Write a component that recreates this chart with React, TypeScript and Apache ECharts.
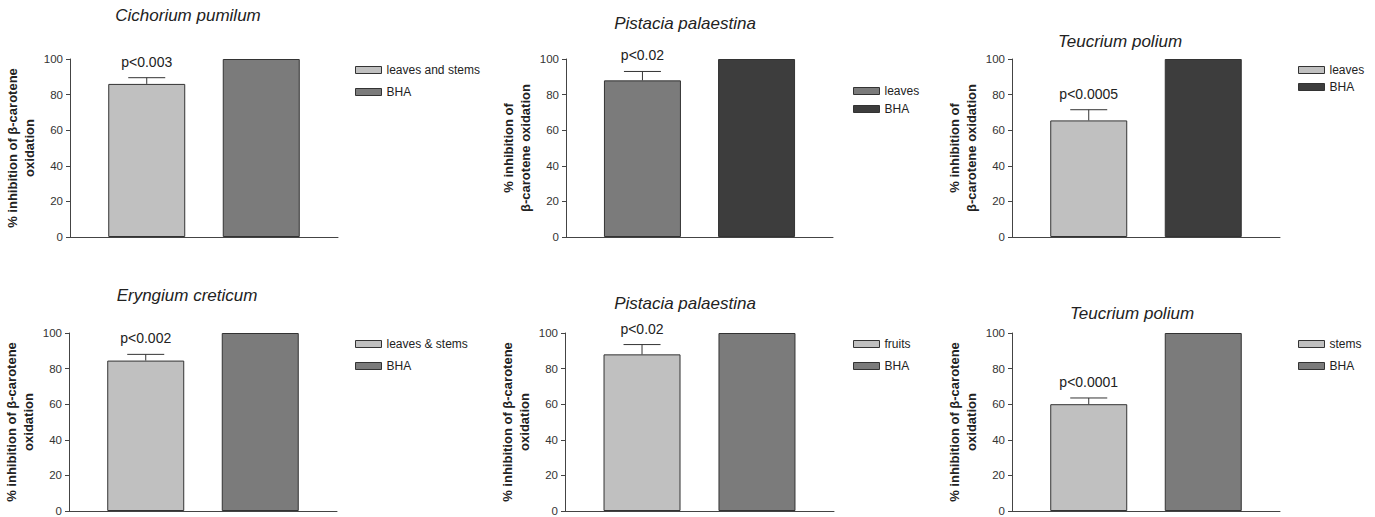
import React, { useEffect, useRef } from "react";
import * as echarts from "echarts";

// ---- data ----
const panelTitles = [
  "Cichorium pumilum",
  "Pistacia palaestina",
  "Teucrium polium",
  "Eryngium creticum",
  "Pistacia palaestina",
  "Teucrium polium",
];
const sampleLabels = ["leaves and stems", "leaves", "leaves", "leaves & stems", "fruits", "stems"];
const referenceLabel = "BHA";
const sampleValues = [86, 88, 65.5, 84.5, 88, 60];
const sampleErrors = [3.5, 5, 6, 3.5, 5.5, 3.5];
const referenceValues = [100, 100, 100, 100, 100, 100];
const pLabels = ["p<0.003", "p<0.02", "p<0.0005", "p<0.002", "p<0.02", "p<0.0001"];
const yAxisNames = [
  "% inhibition of β-carotene\noxidation",
  "% inhibition of\nβ-carotene oxidation",
  "% inhibition of\nβ-carotene oxidation",
  "% inhibition of β-carotene\noxidation",
  "% inhibition of β-carotene\noxidation",
  "% inhibition of β-carotene\noxidation",
];
const yMin = 0;
const yMax = 100;
const yStep = 20;

// ---- layout / styles ----
const LIGHT = "#c0c0c0";
const MID = "#7b7b7b";
const DARK = "#3d3d3d";
const panelColors = [
  [LIGHT, MID],
  [MID, DARK],
  [LIGHT, DARK],
  [LIGHT, MID],
  [LIGHT, MID],
  [LIGHT, MID],
];
const layout = [
  { left: 70, top: 59, width: 268, title: [188, 17], legend: [355, 64, 10] },
  { left: 566, top: 59, width: 267, title: [685, 25], legend: [853, 85, 6] },
  { left: 1012, top: 59, width: 268, title: [1120, 43], legend: [1298, 64, 5] },
  { left: 69, top: 333, width: 268, title: [187, 297], legend: [355, 338, 10] },
  { left: 565, top: 333, width: 269, title: [685, 305], legend: [853, 338, 10] },
  { left: 1012, top: 333, width: 268, title: [1132, 315], legend: [1298, 338, 10] },
];
const PLOT_H = 178;
const FONT = "'Liberation Sans', Arial, Helvetica, sans-serif";
const AXIS_COLOR = "#444";
const TEXT_COLOR = "#222";

export default function App() {
  const ref = useRef<HTMLDivElement>(null);

  useEffect(() => {
    if (!ref.current) return;
    const chart = echarts.init(ref.current, null, { renderer: "svg" });

    const grid: any[] = [];
    const xAxis: any[] = [];
    const yAxis: any[] = [];
    const title: any[] = [];
    const legend: any[] = [];
    const series: any[] = [];

    panelTitles.forEach((t, i) => {
      const L = layout[i];
      grid.push({ left: L.left, top: L.top, width: L.width, height: PLOT_H, containLabel: false });
      xAxis.push({
        type: "value",
        gridIndex: i,
        min: 0.33,
        max: 2.67,
        axisLine: { show: true, onZero: false, lineStyle: { color: AXIS_COLOR, width: 1 } },
        axisTick: { show: false },
        axisLabel: { show: false },
        splitLine: { show: false },
      });
      yAxis.push({
        type: "value",
        gridIndex: i,
        min: yMin,
        max: yMax,
        interval: yStep,
        name: yAxisNames[i],
        nameLocation: "middle",
        nameRotate: 90,
        nameGap: 32,
        nameTextStyle: {
          fontSize: 13,
          fontWeight: "bold",
          color: TEXT_COLOR,
          fontFamily: FONT,
          lineHeight: 17,
          align: "center",
        },
        axisLine: { show: true, lineStyle: { color: AXIS_COLOR, width: 1 } },
        axisTick: { show: true, length: 4, lineStyle: { color: AXIS_COLOR } },
        axisLabel: { fontSize: 11.5, color: "#333", margin: 7, fontFamily: FONT },
        splitLine: { show: false },
      });
      title.push({
        text: t,
        left: L.title[0],
        top: L.title[1] - 10,
        textAlign: "center",
        padding: 0,
        textStyle: {
          fontSize: 17,
          fontStyle: "italic",
          fontWeight: "normal",
          color: TEXT_COLOR,
          fontFamily: FONT,
        },
      });
      const nameA = `${sampleLabels[i]}|${i}`;
      const nameB = `${referenceLabel}|${i}`;
      legend.push({
        orient: "vertical",
        left: L.legend[0],
        top: L.legend[1],
        itemGap: L.legend[2],
        itemWidth: 26,
        itemHeight: 7,
        icon: "rect",
        padding: 0,
        selectedMode: false,
        data: [nameA, nameB],
        formatter: (n: string) => n.split("|")[0],
        itemStyle: { borderColor: "#333", borderWidth: 1 },
        textStyle: { fontSize: 12, color: TEXT_COLOR, fontFamily: FONT, lineHeight: 12 },
      });
      series.push({
        type: "bar",
        name: nameA,
        xAxisIndex: i,
        yAxisIndex: i,
        barWidth: 77,
        barGap: "-100%",
        data: [[1, sampleValues[i]]],
        itemStyle: { color: panelColors[i][0], borderColor: "#333", borderWidth: 1 },
      });
      series.push({
        type: "bar",
        name: nameB,
        xAxisIndex: i,
        yAxisIndex: i,
        barWidth: 77,
        barGap: "-100%",
        data: [[2, referenceValues[i]]],
        itemStyle: { color: panelColors[i][1], borderColor: "#333", borderWidth: 1 },
      });
      const label = pLabels[i];
      series.push({
        type: "custom",
        xAxisIndex: i,
        yAxisIndex: i,
        z: 5,
        clip: false,
        data: [[1, sampleValues[i], sampleErrors[i]]],
        renderItem: (_p: any, api: any) => {
          const x = api.value(0);
          const v = api.value(1);
          const e = api.value(2);
          const base = api.coord([x, v]);
          const top = api.coord([x, v + e]);
          return {
            type: "group",
            children: [
              {
                type: "line",
                shape: { x1: base[0], y1: base[1], x2: top[0], y2: top[1] },
                style: { stroke: "#333", lineWidth: 1 },
              },
              {
                type: "line",
                shape: { x1: top[0] - 18.5, y1: top[1], x2: top[0] + 18.5, y2: top[1] },
                style: { stroke: "#333", lineWidth: 1 },
              },
              {
                type: "text",
                x: top[0],
                y: top[1] - 16,
                style: {
                  text: label,
                  align: "center",
                  verticalAlign: "middle",
                  fontSize: 14,
                  fontFamily: FONT,
                  fill: TEXT_COLOR,
                },
              },
            ],
          };
        },
      });
    });

    chart.setOption({
      animation: false,
      backgroundColor: "#ffffff",
      grid,
      xAxis,
      yAxis,
      title,
      legend,
      series,
    });

    return () => chart.dispose();
  }, []);

  return (
    <div
      ref={ref}
      style={{ position: "fixed", left: 0, top: 0, width: 1375, height: 517, background: "#fff" }}
    />
  );
}
